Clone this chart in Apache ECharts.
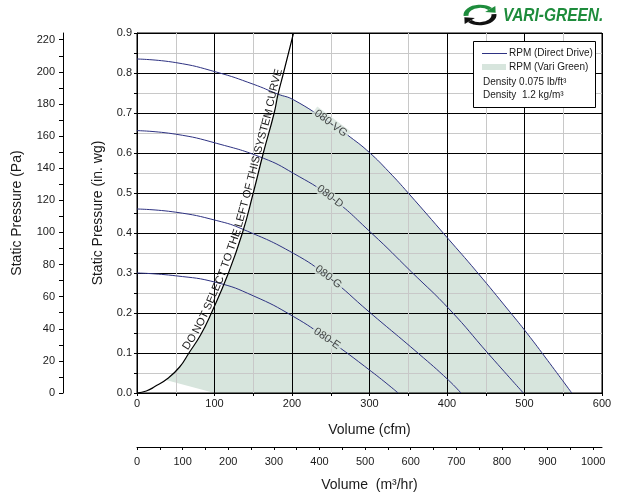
<!DOCTYPE html>
<html><head><meta charset="utf-8">
<script src="https://cdn.jsdelivr.net/npm/echarts@6/dist/echarts.min.js"></script>
<style>html,body{margin:0;padding:0;background:#fff}#c{width:621px;height:499px}</style>
</head><body><div id="c"></div>
<script>
// ---------- data (x = volume in cfm, y = static pressure in in. wg) ----------
const vgCfm = [0, 50, 103, 150, 182, 202, 250, 275, 300, 325, 350, 400, 438, 481, 503, 530, 561];
const vgP   = [0.835, 0.826, 0.802, 0.772, 0.747, 0.733, 0.674, 0.640, 0.601, 0.553, 0.500, 0.389, 0.304, 0.203, 0.150, 0.081, 0];
const dCfm  = [0, 50, 103, 163, 202, 249, 303, 354, 404, 453, 498.5];
const dP    = [0.656, 0.647, 0.624, 0.587, 0.549, 0.491, 0.399, 0.303, 0.2075, 0.099, 0];
const gCfm  = [0, 50, 103, 137, 202, 247, 300, 363, 402, 418];
const gP    = [0.46, 0.452, 0.431, 0.409, 0.349, 0.29, 0.202, 0.099, 0.032, 0];
const eCfm  = [0, 50, 103, 150, 202, 245, 303, 337];
const eP    = [0.30, 0.293, 0.276, 0.243, 0.191, 0.136, 0.053, 0];
const sysCfm = [0, 12, 23, 40, 55, 67, 82, 96, 118, 136, 150, 163, 177, 182, 189, 202];
const sysP   = [0, 0.005, 0.016, 0.037, 0.065, 0.1, 0.145, 0.2, 0.3, 0.4, 0.5, 0.6, 0.7, 0.747, 0.8, 0.9];
// lower edge of the Vari Green region (bottom-left corner)
const lowCfm = [0, 12, 23, 36, 100];
const lowP   = [0, 0.006, 0.017, 0.033, 0];
const curveNames = ['080-VG', '080-D', '080-G', '080-E'];
const labelIdx = [6, 5, 5, 5];   // which data point of each curve carries its label
const xTicksCfm = [0, 100, 200, 300, 400, 500, 600];
const paTicks = [0, 20, 40, 60, 80, 100, 120, 140, 160, 180, 200, 220];
const paMinor = [0,10,20,30,40,50,60,70,80,90,100,110,120,130,140,150,160,170,180,190,200,210,220];
const m3Ticks = [0, 100, 200, 300, 400, 500, 600, 700, 800, 900, 1000];
const m3Minor = [0,50,100,150,200,250,300,350,400,450,500,550,600,650,700,750,800,850,900,950,1000];
const PA_PER_INWG = 249.089, M3H_PER_CFM = 1.69901;

// ---------- styles ----------
const FONT = '"Liberation Sans", Arial, Helvetica, sans-serif';
const NAVY = '#2e3282', FILL = '#d7e5dd', GREEN = '#1e8c3c', TXT = '#1a1a1a';
const SMOOTH = 0.5;

const pair = (xs, ys) => xs.map((x, i) => [x, ys[i]]);
const js = sysCfm.indexOf(182), jv = vgCfm.indexOf(182);
const fillData = pair(sysCfm.slice(0, js + 1), sysP.slice(0, js + 1))
  .concat(pair(vgCfm.slice(jv + 1), vgP.slice(jv + 1)));

const curves = [[vgCfm, vgP], [dCfm, dP], [gCfm, gP], [eCfm, eP]];
const rotations = [-37, -38, -38, -35];
const labelData = curves.map((c, k) => ({
  value: [c[0][labelIdx[k]], c[1][labelIdx[k]]],
  label: { formatter: curveNames[k], rotate: rotations[k] }
}));

const chart = echarts.init(document.getElementById('c'), null, { renderer: 'canvas' });
const axisText = { fontFamily: FONT, fontSize: 11, color: TXT };
const nameText = { fontFamily: FONT, fontSize: 14, color: TXT };

chart.setOption({
  animation: false,
  backgroundColor: '#fff',
  grid: [
    { left: 137, top: 33, width: 465, height: 360, show: true, borderColor: '#000', borderWidth: 1, backgroundColor: 'transparent' },
    { left: 63, top: 33, width: 1, height: 360 },
    { left: 137, top: 446, width: 465, height: 1 }
  ],
  xAxis: [
    { gridIndex: 0, type: 'value', min: 0, max: 600, interval: 100,
      name: 'Volume (cfm)', nameLocation: 'middle', nameGap: 30, nameTextStyle: nameText,
      axisLine: { show: true, lineStyle: { color: '#000', width: 1 } },
      axisTick: { show: true, length: 3, lineStyle: { color: '#000' } },
      minorTick: { show: true, splitNumber: 2, length: 3, lineStyle: { color: '#000' } },
      axisLabel: Object.assign({ margin: 5, customValues: xTicksCfm, formatter: v => String(v) }, axisText),
      splitLine: { show: true, lineStyle: { color: '#000', width: 1 } },
      minorSplitLine: { show: true, lineStyle: { color: '#c8c8c8', width: 1 } } },
    { gridIndex: 1, type: 'value', show: false, min: 0, max: 1 },
    { gridIndex: 2, type: 'value', min: 0, max: 600 * M3H_PER_CFM,
      name: 'Volume  (m³/hr)', nameLocation: 'middle', nameGap: 31, nameTextStyle: nameText,
      axisLine: { show: true, lineStyle: { color: '#000', width: 1 } },
      axisTick: { show: true, length: 3, customValues: m3Minor, lineStyle: { color: '#000' } },
      axisLabel: Object.assign({ margin: 9, customValues: m3Ticks, formatter: v => String(v) }, axisText),
      splitLine: { show: false } }
  ],
  yAxis: [
    { gridIndex: 0, type: 'value', min: 0, max: 0.9, interval: 0.1,
      name: 'Static Pressure (in. wg)', nameLocation: 'middle', nameGap: 32, nameTextStyle: nameText,
      axisLine: { show: true, lineStyle: { color: '#000', width: 1 } },
      axisTick: { show: true, length: 3, lineStyle: { color: '#000' } },
      minorTick: { show: true, splitNumber: 2, length: 3, lineStyle: { color: '#000' } },
      axisLabel: Object.assign({ margin: 5, formatter: v => v.toFixed(1) }, axisText),
      splitLine: { show: true, lineStyle: { color: '#000', width: 1 } },
      minorSplitLine: { show: true, lineStyle: { color: '#c8c8c8', width: 1 } } },
    { gridIndex: 1, type: 'value', min: 0, max: 0.9 * PA_PER_INWG,
      name: 'Static Pressure (Pa)', nameLocation: 'middle', nameGap: 39, nameTextStyle: nameText,
      axisLine: { show: true, lineStyle: { color: '#000', width: 1 } },
      axisTick: { show: true, length: 4, customValues: paMinor, lineStyle: { color: '#000' } },
      axisLabel: Object.assign({ margin: 8, customValues: paTicks, formatter: v => String(v) }, axisText),
      splitLine: { show: false } },
    { gridIndex: 2, type: 'value', show: false, min: 0, max: 1 }
  ],
  series: [
    { type: 'line', name: 'RPM (Vari Green)', data: fillData, smooth: SMOOTH, symbol: 'none', silent: true,
      lineStyle: { width: 0, opacity: 0 }, areaStyle: { color: FILL, opacity: 1 }, z: -2 },
    { type: 'custom', silent: true, z: -1, data: [[0, 0]],
      renderItem: (params, api) => ({ type: 'polygon',
        shape: { points: pair(lowCfm, lowP).map(p => api.coord(p)) },
        style: { fill: '#ffffff' } }) },
    ...curves.map((c, k) => ({ type: 'line', name: curveNames[k], data: pair(c[0], c[1]), smooth: SMOOTH,
      symbol: 'none', silent: true, lineStyle: { color: NAVY, width: 1 }, z: 2 })),
    { type: 'line', name: 'System curve', data: pair(sysCfm, sysP), smooth: SMOOTH, symbol: 'none', silent: true,
      lineStyle: { color: '#000', width: 1.2 }, z: 3 },
    { type: 'scatter', data: labelData, symbolSize: 0, silent: true, z: 5,
      label: { show: true, position: 'inside', fontFamily: FONT, fontSize: 11, color: TXT,
        backgroundColor: FILL, padding: [0, 2] } }
  ]
});

// ---------- graphics: legend, logo, text along system curve ----------
const g = [];
// legend
g.push({ type: 'rect', shape: { x: 473.5, y: 41.5, width: 122, height: 66 }, style: { fill: '#fff', stroke: '#000', lineWidth: 1 }, z: 10 });
g.push({ type: 'line', shape: { x1: 482, y1: 53.5, x2: 507, y2: 53.5 }, style: { stroke: NAVY, lineWidth: 1 }, z: 11 });
g.push({ type: 'text', x: 509, y: 53.5, style: { text: 'RPM (Direct Drive)', font: '10px ' + FONT, fill: TXT, verticalAlign: 'middle' }, z: 11 });
g.push({ type: 'rect', shape: { x: 482, y: 64, width: 24, height: 6 }, style: { fill: FILL }, z: 11 });
g.push({ type: 'text', x: 509, y: 67, style: { text: 'RPM (Vari Green)', font: '10px ' + FONT, fill: TXT, verticalAlign: 'middle' }, z: 11 });
g.push({ type: 'text', x: 483, y: 82, style: { text: 'Density 0.075 lb/ft³', font: '10px ' + FONT, fill: TXT, verticalAlign: 'middle' }, z: 11 });
g.push({ type: 'text', x: 483, y: 95, style: { text: 'Density  1.2 kg/m³', font: '10px ' + FONT, fill: TXT, verticalAlign: 'middle' }, z: 11 });
// logo
g.push({ type: 'text', x: 503, y: 16, scaleX: 0.86, style: { text: 'VARI-GREEN.', font: 'italic bold 18px ' + FONT, fill: GREEN, verticalAlign: 'middle' }, z: 11 });
function arrowHead(r, ang, color) {
  const px = r * Math.cos(ang), py = r * Math.sin(ang);
  const tx = -Math.sin(ang), ty = Math.cos(ang), nx = Math.cos(ang), ny = Math.sin(ang);
  return { type: 'polygon', shape: { points: [[px + tx * 8, py + ty * 8], [px + nx * 7, py + ny * 7], [px - nx * 7, py - ny * 7]] }, style: { fill: color } };
}
g.push({ type: 'group', x: 480, y: 15, scaleY: 0.62, z: 11, children: [
  { type: 'arc', shape: { cx: 0, cy: 0, r: 14, startAngle: Math.PI * 0.97, endAngle: Math.PI * 1.76, clockwise: true }, style: { stroke: GREEN, lineWidth: 5, fill: null } },
  arrowHead(14, Math.PI * 1.76, GREEN),
  { type: 'arc', shape: { cx: 0, cy: 0, r: 14, startAngle: Math.PI * -0.03, endAngle: Math.PI * 0.76, clockwise: true }, style: { stroke: '#111', lineWidth: 5, fill: null } },
  arrowHead(14, Math.PI * 0.76, '#111')
] });

// text following the system curve
(function () {
  const pts = sysCfm.map((x, i) => chart.convertToPixel({ gridIndex: 0 }, [x, sysP[i]]));
  const cum = [0];
  for (let i = 1; i < pts.length; i++) cum.push(cum[i - 1] + Math.hypot(pts[i][0] - pts[i - 1][0], pts[i][1] - pts[i - 1][1]));
  function at(s) {
    let i = 1;
    while (i < pts.length - 1 && cum[i] < s) i++;
    const a = pts[i - 1], b = pts[i], L = cum[i] - cum[i - 1];
    const t = (s - cum[i - 1]) / L;
    return { x: a[0] + (b[0] - a[0]) * t, y: a[1] + (b[1] - a[1]) * t, dx: (b[0] - a[0]) / L, dy: (b[1] - a[1]) / L };
  }
  // arc position where the curve reaches 0.445 in. wg
  let sC = 0;
  for (let i = 1; i < sysP.length; i++) {
    if (sysP[i] >= 0.445) { const t = (0.445 - sysP[i - 1]) / (sysP[i] - sysP[i - 1]); sC = cum[i - 1] + t * (cum[i] - cum[i - 1]); break; }
  }
  const txt = 'DO NOT SELECT TO THE LEFT OF THIS SYSTEM CURVE';
  const ctx = document.createElement('canvas').getContext('2d');
  ctx.font = '11px ' + FONT;
  const total = ctx.measureText(txt).width;
  let s = sC - total / 2;
  for (const ch of txt) {
    const w = ctx.measureText(ch).width;
    const p = at(s + w / 2);
    const ux = p.dy, uy = -p.dx; // "up" side of the text
    const off = 5.3;
    if (ch !== ' ') {
      g.push({ type: 'text', x: p.x + ux * off, y: p.y + uy * off, rotation: -Math.atan2(p.dy, p.dx),
        style: { text: ch, font: '11px ' + FONT, fill: TXT, align: 'center', verticalAlign: 'middle' }, z: 6 });
    }
    s += w;
  }
})();

chart.setOption({ graphic: { elements: g } });
</script>
</body></html>
